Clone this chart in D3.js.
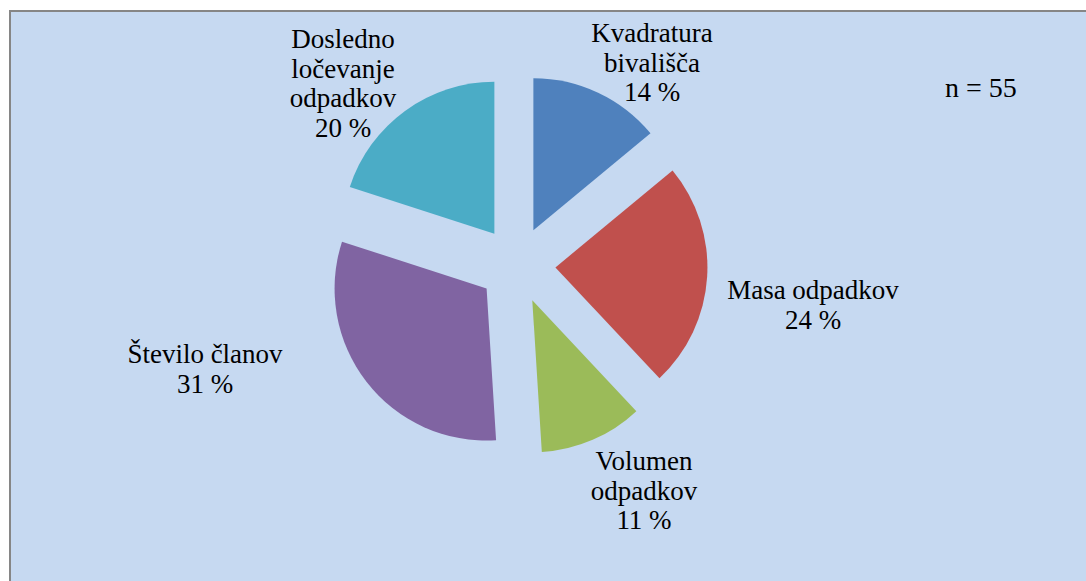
<!DOCTYPE html>
<html>
<head>
<meta charset="utf-8">
<script src="https://cdn.jsdelivr.net/npm/d3@7"></script>
<style>
  body { margin: 0; background: #fff; }
  svg { display: block; }
</style>
</head>
<body>
<div class="chart"></div>
<script>
// data
const categories = ['Kvadratura bivališča', 'Masa odpadkov', 'Volumen odpadkov', 'Število članov', 'Dosledno ločevanje odpadkov'];
const values = [14, 24, 11, 31, 20];
const labelLines = [
  ['Kvadratura', 'bivališča'],
  ['Masa odpadkov'],
  ['Volumen', 'odpadkov'],
  ['Število članov'],
  ['Dosledno', 'ločevanje', 'odpadkov']
];
const sampleNote = 'n = 55';

// layout
const colors = ['#4f81bd', '#c0504d', '#9bbb59', '#8064a2', '#4bacc6'];
// label anchor: centre x, baseline of first line
const labelPos = [[652, 42], [813, 299], [644, 470], [205, 363], [343, 48]];

function drawPie() {
  const w = 1086;
  const h = 581;
  const cx = 517, cy = 265;
  const r = 152;
  const explode = 38.5;
  const lineH = 29.5;

  const svg = d3.select('.chart')
    .append('svg')
    .attr('width', w)
    .attr('height', h);

  svg.append('rect')
    .attr('x', 10)
    .attr('y', 11)
    .attr('width', w + 20)
    .attr('height', h + 20)
    .attr('fill', '#c6d9f1')
    .attr('stroke', '#868686')
    .attr('stroke-width', 2);

  const pie = d3.pie().sort(null).value(d => d);
  const arc = d3.arc().innerRadius(0).outerRadius(r);
  const arcs = pie(values);

  const chart = svg.append('g')
    .attr('transform', `translate(${cx}, ${cy})`);

  chart.selectAll('path')
    .data(arcs)
    .enter()
    .append('path')
    .attr('d', arc)
    .attr('fill', (d, i) => colors[i])
    .attr('transform', d => {
      const a = (d.startAngle + d.endAngle) / 2;
      return `translate(${Math.sin(a) * explode}, ${-Math.cos(a) * explode})`;
    });

  const labels = svg.append('g').attr('class', 'labels');

  arcs.forEach((d, i) => {
    const lines = labelLines[i].concat([`${values[i]} %`]);
    const t = labels.append('text')
      .attr('font-family', 'Liberation Serif')
      .attr('font-size', 27)
      .attr('text-anchor', 'middle');
    lines.forEach((line, j) => {
      t.append('tspan')
        .attr('x', labelPos[i][0])
        .attr('y', labelPos[i][1] + j * lineH)
        .text(line);
    });
  });

  svg.append('text')
    .attr('x', 945)
    .attr('y', 97)
    .attr('font-family', 'Liberation Serif')
    .attr('font-size', 28)
    .text(sampleNote);
}

drawPie();
</script>
</body>
</html>
